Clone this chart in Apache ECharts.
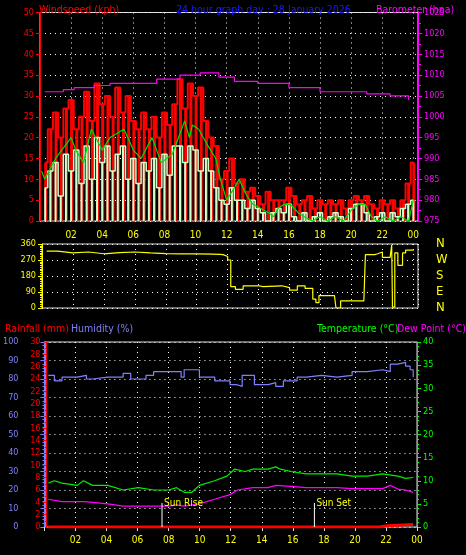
<!DOCTYPE html>
<html><head><meta charset="utf-8">
<script src="https://cdn.jsdelivr.net/npm/echarts@6/dist/echarts.min.js"></script>
<style>html,body{margin:0;background:#000}#c{width:466px;height:555px}</style>
</head><body><div id="c"></div>
<script>
// ---- data ----
const gust = [14,22, 26,20,27, 29,22,25, 31,24,33, 28,30,25, 32,26,30, 24,22,26, 22,25,20, 26,23,28, 34,27,33, 30,32,24, 20,18,10, 12,15,9, 10,7,8, 6,4,7, 5,5,5, 8,6,4, 5,6,3, 5,4,5, 4,5,3, 5,6,5, 6,4,3, 5,4,5, 3,5,9, 14];
const speed = [8,12, 14,6,16, 12,17,9, 18,10,20, 14,18,12, 16,18,10, 15,9,14, 12,15,8, 16,11,18, 18,14,18, 17,12,15, 12,8,5, 4,8,5, 5,3,5, 3,2,0, 2,3,2, 4,1,0, 2,0,1, 2,0,1, 2,1,0, 3,4,4, 2,0,1, 2,0,2, 1,3,4, 5];
const avgT = [0.1,0.3,1,2,2.3,2.8,3.3,4,4.5,5.4,6.0,6.5,7.2,7.8,8.5,9.0,9.3,9.6,9.8,10.2,10.8,11.3,11.6,12,12.5,12.8,13.3,13.7,14.2,14.7,15,15.3,15.7,16.1,16.6,17,17.5,18,18.5,19,19.5,20.1,20.5,20.9,21.3,21.7,22.2,22.7,23.2,23.7,24];
const avgV = [12,10,15,20,17,14,22,17,20,22,17,15,20,14,16,21,24,20,23,22,18,15,10,5,8,10,6,4,3,2,1,3,4,4,2,1,0,1,0,1,0,3,4,4,1,0,1,0,1,0,5];
const baroT = [0.3,1.5,2.2,3.5,4.5,6.5,7.5,9,10.3,11.5,12.5,14,16,18,19.5,21,22.5,23.7];
const baroV = [1006,1006.5,1007,1007.5,1008,1008,1009,1010,1010.5,1009.5,1008.5,1008,1007,1006,1006,1005.5,1005,1004];
const dirT = [0.3,1,2,3,4,5,6,7,8,9,10,11,11.5,11.7,12,12.2,12.5,13,14,14.3,15.5,16,16.5,17,17.5,17.7,17.9,18.9,19.0,19.3,20.8,20.9,21.5,21.7,22,22.5,22.6,22.65,22.8,23,23.3,23.5,24];
const dirV = [320,310,315,305,312,315,310,306,305,304,303,302,300,290,270,120,105,125,120,125,115,100,125,110,50,30,70,70,0,40,45,300,305,315,285,285,355,5,310,240,310,325,330];
const humT = [0.1,0.5,1,2,2.6,3,4,5,5.5,6.5,7,8,8.8,9,9.7,10,11,12,12.4,12.8,13.4,13.6,14.5,15,15.5,16.4,17,18,19,20,21,22,22.5,23,23.5,23.8,24];
const humV = [82,79,81,82,80,81,81,83,80,82,84,84,81,85,85,81,79,77,76,82,82,77,78,76,79,81,82,81,82,84,85,84,88,89,87,85,81];
const tempT = [0.1,0.5,1,2,2.4,3,4,5,6,7,8,8.5,9,9.5,10,11,11.8,12.3,13,13.5,14.5,15,15.3,16,17,19,20,21,22,23,23.5,24];
const tempV = [9.5,10,9.5,9,10,9,9,8,8.5,8,8,8.5,7.5,7.5,9,10,11,12.5,12,12.5,12.5,13,12.5,12,11.5,11.5,11,11,11.5,11,10.5,10.7];
const dewT = [0.1,1,2.5,4,5,8,8.5,9,10,11,12,12.5,13.5,14.5,15,16,17,19,20,22,22.5,23,23.5,24];
const dewV = [6,5.5,5.5,5,4.5,4.5,4.8,4.5,5,6,7,8,8.5,8.5,9,8.8,8.5,8.5,8.3,8.3,9,8.2,8,7.5];
const rainT = [0.1,21.8,21.9,22.3,22.4,24];
const rainV = [0,0,0.2,0.2,0.4,0.4];
const sunRise = 7.55, sunSet = 17.53;
const dirLabels = {0:'N',90:'E',180:'S',270:'W',360:'N'};

const z = (t, v) => t.map((x, i) => [x, v[i]]);
const tt = gust.map((_, i) => +((i + 1) / 3).toFixed(3));
const F = 'DejaVu Sans Condensed';
const hourFmt = v => (v <= 0 ? '' : String(v % 24).padStart(2, '0'));
const dotted = {show: true, lineStyle: {color: '#fff', type: [1, 4], width: 1}};
const txt = (t, c, x, y) => ({text: t, left: x, top: y, textStyle: {color: c, fontSize: 10.5, fontFamily: F, fontWeight: 'normal'}});
const lab = c => ({color: c, fontSize: 9, fontFamily: F, margin: 6, formatter: v => String(v)});

const chart = echarts.init(document.getElementById('c'));
chart.setOption({
  backgroundColor: '#000',
  animation: false,
  title: [
    txt('Windspeed (kph)', '#ff0000', 34, 0),
    txt('24 hour graph day : 28 January 2026', '#1a1aff', 171, 0),
    txt('Barometer (hpa)', '#ff00ff', 371, 0),
    txt('Rainfall (mm)', '#ff0000', 0, 319),
    txt('Humidity (%)', '#8080ff', 66, 319),
    txt('Temperature (°C)', '#00ff00', 312, 319),
    txt('Dew Point (°C)', '#ff00ff', 392, 319)
  ],
  grid: [
    {left: 40, right: 48, top: 12.5, height: 208.5, show: true, borderColor: '#ddd', borderWidth: 1},
    {left: 42, right: 48, top: 244, height: 64, show: true, borderColor: '#ddd', borderWidth: 1},
    {left: 43, right: 49, top: 342, height: 185, show: true, borderColor: '#ddd', borderWidth: 1}
  ],
  xAxis: [
    {gridIndex: 0, type: 'value', min: 0, max: 24.3, interval: 2, axisLine: {show: false},
     axisTick: {show: false}, splitLine: dotted,
     axisLabel: {color: '#ffff00', fontSize: 10, fontFamily: F, margin: 9, formatter: hourFmt, showMaxLabel: false}},
    {gridIndex: 1, type: 'value', min: 0, max: 24.3, interval: 2, axisLine: {show: false},
     axisTick: {show: false}, axisLabel: {show: false}, splitLine: dotted},
    {gridIndex: 2, type: 'value', min: -0.15, max: 24.25, axisLine: {show: false},
     axisTick: {show: false}, splitLine: {show: false}, axisLabel: {show: false}},
    {gridIndex: 2, type: 'value', min: 0, max: 24, interval: 2, position: 'bottom', axisLine: {show: false},
     axisTick: {show: true, length: 4, lineStyle: {color: '#ddd'}}, splitLine: dotted,
     axisLabel: {color: '#ffff00', fontSize: 10, fontFamily: F, margin: 8, formatter: hourFmt}}
  ],
  yAxis: [
    {gridIndex: 0, type: 'value', min: 0, max: 50, interval: 5, axisLine: {show: true, lineStyle: {color: '#ff0000'}},
     axisTick: {show: true, length: 4}, splitLine: dotted, axisLabel: lab('#ff0000')},
    {gridIndex: 0, type: 'value', min: 975, max: 1025, interval: 5, position: 'right', axisLine: {show: true, lineStyle: {color: '#ff00ff'}},
     axisTick: {show: true, length: 4}, minorTick: {show: true, splitNumber: 2, length: 3, lineStyle: {color: '#ff00ff'}},
     splitLine: {show: false}, axisLabel: lab('#ff00ff')},
    {gridIndex: 1, type: 'value', min: 0, max: 360, interval: 90, axisLine: {show: true, lineStyle: {color: '#ffff00'}},
     axisTick: {show: true, length: 4}, minorTick: {show: true, splitNumber: 9, length: 2, lineStyle: {color: '#ffff00'}},
     splitLine: dotted, axisLabel: lab('#ffff00')},
    {gridIndex: 1, type: 'value', min: 0, max: 360, interval: 90, position: 'right', offset: 12,
     axisLine: {show: false}, axisTick: {show: false}, splitLine: {show: false},
     axisLabel: {color: '#ffff00', fontSize: 13, fontFamily: F, margin: 6, formatter: v => dirLabels[v]}},
    {gridIndex: 2, type: 'value', min: 0, max: 30, interval: 2, position: 'left', axisLine: {show: true, lineStyle: {color: '#ff0000'}},
     axisTick: {show: true, length: 4}, minorTick: {show: true, splitNumber: 2, length: 2, lineStyle: {color: '#ff0000'}},
     splitLine: {show: false}, axisLabel: Object.assign(lab('#ff0000'), {margin: 4})},
    {gridIndex: 2, type: 'value', min: 0, max: 100, interval: 10, position: 'left', offset: 21, axisLine: {show: true, lineStyle: {color: '#8080ff', width: 2}},
     axisTick: {show: true, length: 4}, minorTick: {show: true, splitNumber: 5, length: 2, lineStyle: {color: '#8080ff'}},
     splitLine: dotted, axisLabel: Object.assign(lab('#8080ff'), {margin: 5})},
    {gridIndex: 2, type: 'value', min: 0, max: 40, interval: 5, position: 'right', axisLine: {show: true, lineStyle: {color: '#00ff00'}},
     axisTick: {show: true, length: 4}, minorTick: {show: true, splitNumber: 5, length: 2, lineStyle: {color: '#00ff00'}},
     splitLine: {show: false}, axisLabel: lab('#00ff00')}
  ],
  series: [
    {type: 'bar', xAxisIndex: 0, yAxisIndex: 0, data: z(tt, gust), barWidth: 3,
     itemStyle: {color: '#ff0000'}},
    {type: 'line', xAxisIndex: 0, yAxisIndex: 0, step: 'middle', showSymbol: false, data: z(tt, gust),
     lineStyle: {color: '#ff0000', width: 2}},
    {type: 'bar', xAxisIndex: 0, yAxisIndex: 0, data: z(tt, speed), barWidth: 2, barGap: '-100%',
     itemStyle: {color: '#ccffcc'}},
    {type: 'line', xAxisIndex: 0, yAxisIndex: 0, step: 'middle', showSymbol: false, data: z(tt, speed),
     lineStyle: {color: '#ccffcc', width: 1.5}},
    {type: 'line', xAxisIndex: 0, yAxisIndex: 0, showSymbol: false, data: z(avgT, avgV),
     lineStyle: {color: '#00dd00', width: 1.2}},
    {type: 'line', xAxisIndex: 0, yAxisIndex: 1, step: 'end', showSymbol: false, data: z(baroT, baroV),
     lineStyle: {color: '#ff00ff', width: 1.2}},
    {type: 'line', xAxisIndex: 1, yAxisIndex: 2, step: 'end', showSymbol: false, data: z(dirT, dirV),
     lineStyle: {color: '#ffff00', width: 1.2}},
    {type: 'line', xAxisIndex: 2, yAxisIndex: 5, step: 'end', showSymbol: false, data: z(humT, humV),
     lineStyle: {color: '#8080ff', width: 1.2}},
    {type: 'line', xAxisIndex: 2, yAxisIndex: 6, showSymbol: false, data: z(tempT, tempV),
     lineStyle: {color: '#00ee00', width: 1.2}},
    {type: 'line', xAxisIndex: 2, yAxisIndex: 6, showSymbol: false, data: z(dewT, dewV),
     lineStyle: {color: '#ff00ff', width: 1.2}},
    {type: 'line', xAxisIndex: 2, yAxisIndex: 4, step: 'end', showSymbol: false, data: z(rainT, rainV),
     lineStyle: {color: '#ff0000', width: 3}},
    {type: 'line', xAxisIndex: 2, yAxisIndex: 5, showSymbol: false, data: [[sunRise, 0], [sunRise, 13]],
     lineStyle: {color: '#ffffff', width: 1}, endLabel: {show: true, formatter: 'Sun Rise', color: '#ffff00', fontSize: 10, fontFamily: F, position: 'top', distance: 2}},
    {type: 'line', xAxisIndex: 2, yAxisIndex: 5, showSymbol: false, data: [[sunSet, 0], [sunSet, 13]],
     lineStyle: {color: '#ffffff', width: 1}, endLabel: {show: true, formatter: 'Sun Set', color: '#ffff00', fontSize: 10, fontFamily: F, position: 'top', distance: 2}}
  ]
});
</script></body></html>
